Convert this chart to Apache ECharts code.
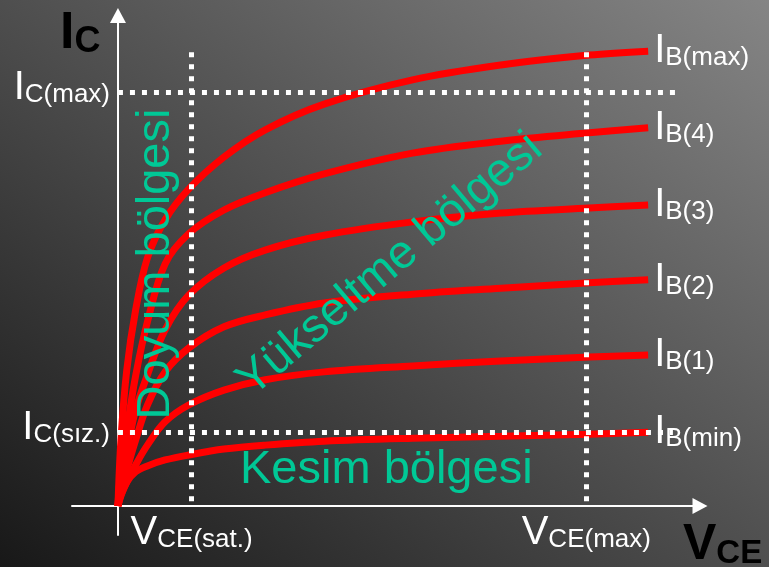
<!DOCTYPE html>
<html><head><meta charset="utf-8">
<script src="https://cdn.jsdelivr.net/npm/echarts@6/dist/echarts.min.js"></script>
<style>html,body{margin:0;padding:0;background:#000;}#c{width:769px;height:567px;background:linear-gradient(to top right,#181818,#858585);}</style>
</head><body><div id="c"></div>
<script>
// ---- data ----
const vce = [0, 0.05, 0.15, 0.3, 0.5, 0.8, 1.2, 1.8, 2.5, 3.5, 5, 6.5, 8, 9];
const ibMax = [0, 1.33, 2.75, 3.96, 5.01, 5.78, 6.40, 7.05, 7.60, 8.12, 8.61, 8.91, 9.11, 9.19];
const ib4   = [0, 0.73, 1.54, 2.63, 3.72, 4.89, 5.50, 5.98, 6.33, 6.71, 7.13, 7.37, 7.54, 7.64];
const ib3   = [0, 0.53, 1.13, 1.94, 2.65, 3.56, 4.26, 4.81, 5.17, 5.47, 5.74, 5.92, 6.02, 6.08];
const ib2   = [0, 0.32, 0.73, 1.33, 2.04, 2.71, 3.19, 3.62, 3.86, 4.10, 4.28, 4.40, 4.51, 4.57];
const ib1   = [0, 0.22, 0.48, 0.83, 1.23, 1.70, 2.04, 2.34, 2.55, 2.71, 2.83, 2.93, 3.01, 3.05];
const ibMin = [0, 0.20, 0.48, 0.69, 0.81, 0.93, 1.03, 1.15, 1.23, 1.31, 1.37, 1.41, 1.45, 1.49];
const ibSubs = ['B(max)', 'B(4)', 'B(3)', 'B(2)', 'B(1)', 'B(min)'];
const xTickValues = [1.25, 7.95];          // VCE(sat.), VCE(max)
const xTickSubs = ['CE(sat.)', 'CE(max)'];
const yTickValues = [1.5, 8.36];           // IC(sız.), IC(max)
const yTickSubs = ['C(sız.)', 'C(max)'];
const guideTop = 9.17;                     // top of the vertical dotted lines
const hGuideEnds = [9.42, 9.47];           // right ends of horizontal dotted lines

// ---- chart ----
const FONT = '"Liberation Sans", Arial, sans-serif';
const rich = {
  big: {fontSize: 40, lineHeight: 40, color: '#fff', fontFamily: FONT, verticalAlign: 'bottom'},
  sub: {fontSize: 26, lineHeight: 30, color: '#fff', fontFamily: FONT, verticalAlign: 'bottom'}
};
const curves = [ibMax, ib4, ib3, ib2, ib1, ibMin];
function pick(v, vals, subs) {
  let best = 0;
  vals.forEach((x, i) => { if (Math.abs(x - v) < Math.abs(vals[best] - v)) best = i; });
  return subs[best];
}
const chart = echarts.init(document.getElementById('c'), null, {renderer: 'canvas'});
const series = curves.map((ys, i) => ({
  type: 'line',
  name: 'I' + ibSubs[i],
  data: vce.map((x, j) => [x, ys[j]]),
  smooth: 0.35,
  symbol: 'none',
  showSymbol: false,
  silent: true,
  z: 2,
  lineStyle: {color: '#ff0000', width: 7},
  endLabel: {show: true, distance: 6, formatter: () => '{big|I}{sub|' + ibSubs[i] + '}', rich: rich}
}));
series.push({
  type: 'line', data: [], z: 10, silent: true,
  markLine: {
    silent: true, symbol: ['none', 'none'], label: {show: false},
    lineStyle: {color: '#ffffff', width: 5, type: [5, 7], opacity: 1},
    emphasis: {disabled: true},
    data: [
      [{coord: [0, yTickValues[1]]}, {coord: [hGuideEnds[1], yTickValues[1]]}],
      [{coord: [0, yTickValues[0]]}, {coord: [hGuideEnds[0], yTickValues[0]]}],
      [{coord: [xTickValues[0], guideTop]}, {coord: [xTickValues[0], 0]}],
      [{coord: [xTickValues[1], guideTop]}, {coord: [xTickValues[1], 0]}]
    ]
  }
});
chart.setOption({
  animation: false,
  grid: {left: 72, right: 69, top: 15.5, bottom: 32, outerBoundsMode: 'none', containLabel: false},
  xAxis: {
    type: 'value', min: -0.78, max: 9.88,
    splitLine: {show: false}, axisTick: {show: false},
    axisLine: {show: true, onZero: true, symbol: ['none', 'triangle'], symbolSize: [16, 15],
      lineStyle: {color: '#ffffff', width: 2}},
    axisLabel: {show: true, customValues: xTickValues, margin: -22, hideOverlap: false,
      formatter: v => '{big|V}{sub|' + pick(v, xTickValues, xTickSubs) + '}', rich: rich}
  },
  yAxis: {
    type: 'value', min: -0.586, max: 9.91,
    splitLine: {show: false}, axisTick: {show: false},
    axisLine: {show: true, onZero: true, symbol: ['none', 'triangle'], symbolSize: [16, 15],
      lineStyle: {color: '#ffffff', width: 2}},
    axisLabel: {show: true, customValues: yTickValues, margin: -38, padding: [0, 0, 8, 0], hideOverlap: false,
      formatter: v => '{big|I}{sub|' + pick(v, yTickValues, yTickSubs) + '}', rich: rich}
  },
  series: series,
  graphic: [
    {type: 'text', x: 60, y: 8, z: 20, silent: true, style: {
      text: '{a|I}{b|C}', align: 'left', verticalAlign: 'top',
      rich: {a: {fontSize: 52, fontWeight: 'bold', lineHeight: 52, fill: '#000', fontFamily: FONT, verticalAlign: 'bottom'},
             b: {fontSize: 36, fontWeight: 'bold', lineHeight: 41, fill: '#000', fontFamily: FONT, verticalAlign: 'bottom'}}}},
    {type: 'text', x: 683, y: 520, z: 20, silent: true, style: {
      text: '{a|V}{b|CE}', align: 'left', verticalAlign: 'top',
      rich: {a: {fontSize: 50, fontWeight: 'bold', lineHeight: 50, fill: '#000', fontFamily: FONT, verticalAlign: 'bottom'},
             b: {fontSize: 33, fontWeight: 'bold', lineHeight: 38, fill: '#000', fontFamily: FONT, verticalAlign: 'bottom'}}}},
    {type: 'text', x: 156, y: 264, rotation: Math.PI / 2, z: 20, silent: true, style: {
      text: 'Doyum bölgesi', fontSize: 47, fontFamily: FONT, fill: '#00c896', align: 'center', verticalAlign: 'middle'}},
    {type: 'text', x: 390, y: 265, rotation: 40 * Math.PI / 180, z: 20, silent: true, style: {
      text: 'Yükseltme bölgesi', fontSize: 47, fontFamily: FONT, fill: '#00c896', align: 'center', verticalAlign: 'middle'}},
    {type: 'text', x: 240, y: 470, z: 20, silent: true, style: {
      text: 'Kesim bölgesi', fontSize: 47, fontFamily: FONT, fill: '#00c896', align: 'left', verticalAlign: 'middle'}}
  ]
});
</script></body></html>
